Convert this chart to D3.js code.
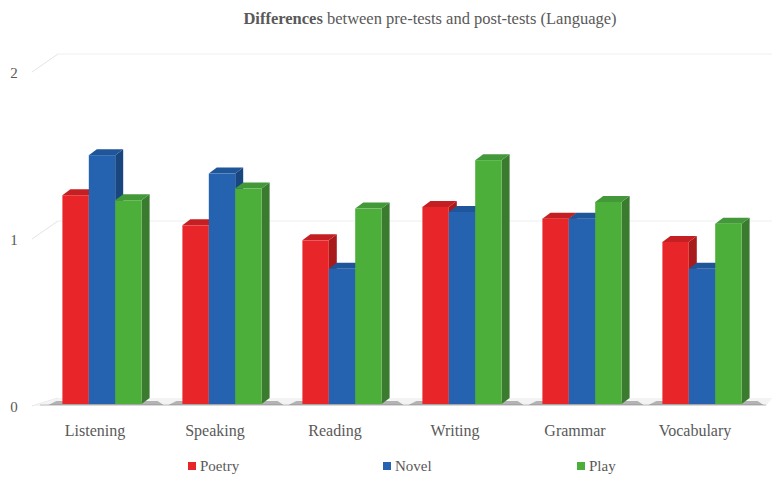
<!DOCTYPE html>
<html lang="en">
<head>
<meta charset="utf-8">
<script src="https://d3js.org/d3.v7.min.js"></script>
<style type="text/css">
body {
	margin: 0;
	background-color: #fff;
}
svg text, svg tspan {
	font-family: "Liberation Serif", "DejaVu Serif", serif;
	fill: #595959;
}
</style>
</head>
<body>
<div class="chart"></div>
<script type="text/javascript">
// data
var categories = ["Listening", "Speaking", "Reading", "Writing", "Grammar", "Vocabulary"];
var seriesNames = ["Poetry", "Novel", "Play"];
var poetry = [1.25, 1.07, 0.98, 1.18, 1.11, 0.97];
var novel  = [1.49, 1.38, 0.81, 1.15, 1.11, 0.81];
var play   = [1.22, 1.29, 1.17, 1.46, 1.21, 1.08];
var yTicks = [0, 1, 2];

var front = ["#e8262a", "#2563b0", "#4caf3a"];
var side  = ["#a81b1d", "#1a4680", "#3a7b30"];
var top_  = ["#c42023", "#1f5599", "#43993a"];

var width = 778, height = 477;
var dx = 8, dy = -6;          // bar depth
var wx = 26, wy = -18;        // back wall offset
var serif = "'Liberation Serif', 'DejaVu Serif', serif";

var svg = d3.select(".chart").append("svg")
	.attr("width", width)
	.attr("height", height)
	.attr("font-family", serif);

var x0 = d3.scaleBand()
	.domain(categories)
	.range([42, 762])
	.paddingInner(0.34)
	.paddingOuter(0.17);

var x1 = d3.scaleBand()
	.domain(seriesNames)
	.range([0, x0.bandwidth()]);

var y = d3.scaleLinear()
	.domain([0, 2])
	.range([404, 70]);

// back wall gridlines + floor
var grid = svg.append("g");
yTicks.forEach(function(t) {
	grid.append("line")
		.attr("x1", 32).attr("y1", y(t) + 2)
		.attr("x2", 32 + wx).attr("y2", y(t) + 2 + (t === 0 ? -8 : wy))
		.style("stroke", "#e4e4e4");
	if (t > 0) {
		grid.append("line")
			.attr("x1", 32 + wx).attr("y1", y(t) + 2 + wy)
			.attr("x2", 772).attr("y2", y(t) + 2 + wy)
			.style("stroke", "#efefef");
	}
});
grid.append("polygon")
	.attr("points", [[32, y(0) + 2], [58, y(0) - 6], [772, y(0) - 6], [766, y(0) + 2]].join(" "))
	.style("fill", "#f3f3f3");
grid.append("line")
	.attr("x1", 40).attr("y1", y(0) + 1)
	.attr("x2", 766).attr("y2", y(0) + 1)
	.style("stroke", "#d0d0d0")
	.style("stroke-width", 1.5);

// y labels
svg.append("g").selectAll("text")
	.data(yTicks)
	.enter().append("text")
	.attr("x", 14)
	.attr("y", function(d) { return y(d) + 5; })
	.attr("dominant-baseline", "middle")
	.attr("text-anchor", "middle")
	.style("font-family", serif)
	.style("font-size", "15px")
	.text(function(d) { return d; });

// bars
var values = [poetry, novel, play];
var bars = svg.append("g");
categories.forEach(function(c, ci) {
	var gx = x0(c);
	// floor shadow under the group
	bars.append("polygon")
		.attr("points", [[gx - 14, y(0) + 1], [gx + x0.bandwidth() + dx + 14, y(0) + 1],
			[gx + x0.bandwidth() + dx + 8, y(0) - 3], [gx - 6, y(0) - 3]].join(" "))
		.style("fill", "#666")
		.style("opacity", 0.45);
	seriesNames.forEach(function(s, si) {
		var v = values[si][ci];
		var xl = gx + x1(s), xr = xl + x1.bandwidth();
		var yt = y(v), yb = y(0);
		bars.append("polygon")
			.attr("points", [[xr, yt], [xr + dx, yt + dy], [xr + dx, yb + dy], [xr, yb]].join(" "))
			.style("fill", side[si]);
		bars.append("polygon")
			.attr("points", [[xl, yt], [xr, yt], [xr + dx, yt + dy], [xl + dx, yt + dy]].join(" "))
			.style("fill", top_[si]);
		bars.append("rect")
			.attr("x", xl)
			.attr("y", yt)
			.attr("width", x1.bandwidth())
			.attr("height", yb - yt)
			.style("fill", front[si]);
	});
});

// category labels
svg.append("g").selectAll("text")
	.data(categories)
	.enter().append("text")
	.attr("x", function(d) { return x0(d) + x0.bandwidth() / 2 - 7; })
	.attr("y", 436)
	.attr("text-anchor", "middle")
	.style("font-family", serif)
	.style("font-size", "16px")
	.text(function(d) { return d; });

// title
var title = svg.append("text")
	.attr("x", 430)
	.attr("y", 24)
	.attr("text-anchor", "middle")
	.style("font-family", serif)
	.style("font-size", "16.5px");
title.append("tspan").style("font-weight", "bold").style("font-family", serif).text("Differences");
title.append("tspan").style("font-family", serif).text(" between pre-tests and post-tests (Language)");

// legend
var legendX = [188, 383, 577];
var legend = svg.append("g").selectAll("g")
	.data(seriesNames)
	.enter().append("g")
	.attr("transform", function(d, i) { return "translate(" + legendX[i] + ",466)"; });
legend.append("rect")
	.attr("x", 0).attr("y", -4)
	.attr("width", 8).attr("height", 8)
	.style("fill", function(d, i) { return front[i]; });
legend.append("text")
	.attr("x", 12)
	.attr("y", 5)
	.style("font-family", serif)
	.style("font-size", "15px")
	.text(function(d) { return d; });
</script>
</body>
</html>
